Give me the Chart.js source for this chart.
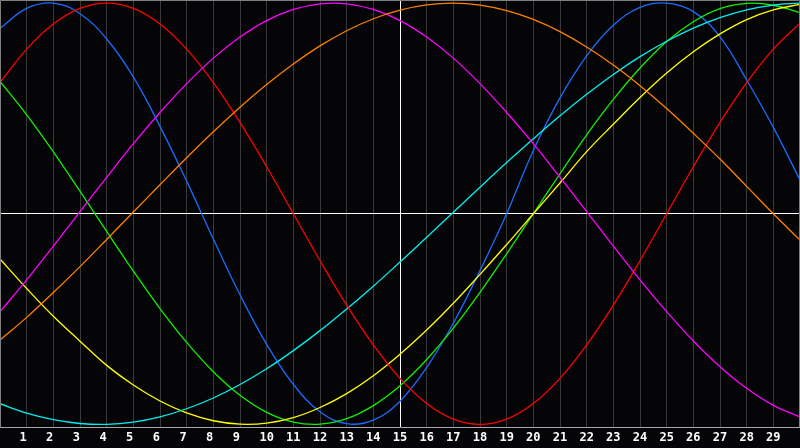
<!DOCTYPE html>
<html>
<head>
<meta charset="utf-8">
<script src="https://cdn.jsdelivr.net/npm/chart.js@4/dist/chart.umd.min.js"></script>
<style>
  html, body { margin: 0; padding: 0; background: #050508; }
  #wrap { width: 800px; height: 448px; }
</style>
</head>
<body>
<div id="wrap"><canvas id="c" width="800" height="448"></canvas></div>
<script>
const xValues = [0,1,2,3,4,5,6,7,8,9,10,11,12,13,14,15,16,17,18,19,20,21,22,23,24,25,26,27,28,29,30];
const tickLabels = ['', '1','2','3','4','5','6','7','8','9','10','11','12','13','14','15','16','17','18','19','20','21','22','23','24','25','26','27','28','29',''];

const blueSeries = [0.88,0.975,1.0,0.95,0.83,0.65,0.415,0.155,-0.12,-0.385,-0.62,-0.81,-0.94,-0.997,-0.98,-0.89,-0.73,-0.52,-0.27,0.0,0.30,0.55,0.75,0.895,0.98,1.0,0.96,0.84,0.635,0.41,0.16];
const redSeries = [0.623,0.782,0.901,0.975,1.0,0.975,0.901,0.782,0.623,0.434,0.223,0.0,-0.223,-0.434,-0.623,-0.782,-0.901,-0.975,-1.0,-0.975,-0.901,-0.782,-0.623,-0.434,-0.223,0.0,0.223,0.434,0.623,0.782,0.905];
const magentaSeries = [-0.465,-0.314,-0.154,0.01,0.173,0.333,0.481,0.618,0.739,0.839,0.917,0.97,0.997,0.997,0.97,0.917,0.839,0.739,0.618,0.481,0.333,0.173,0.01,-0.154,-0.314,-0.465,-0.604,-0.726,-0.829,-0.91,-0.965];
const orangeSeries = [-0.60,-0.492,-0.374,-0.251,-0.122,0.008,0.138,0.266,0.389,0.506,0.614,0.711,0.797,0.869,0.926,0.967,0.992,1.0,0.991,0.965,0.923,0.865,0.792,0.706,0.608,0.50,0.382,0.26,0.13,0.0,-0.125];
const greenSeries = [0.628,0.47,0.294,0.107,-0.084,-0.272,-0.45,-0.611,-0.75,-0.862,-0.943,-0.989,-0.999,-0.973,-0.911,-0.817,-0.692,-0.543,-0.373,-0.19,0.0,0.19,0.375,0.543,0.692,0.818,0.912,0.974,0.999,0.99,0.955];
const cyanSeries = [-0.902,-0.947,-0.978,-0.996,-1.0,-0.989,-0.964,-0.926,-0.875,-0.811,-0.736,-0.65,-0.555,-0.452,-0.344,-0.229,-0.112,0.007,0.126,0.243,0.356,0.465,0.567,0.661,0.746,0.819,0.881,0.931,0.968,0.991,1.0];
const yellowSeries = [-0.215,-0.355,-0.487,-0.605,-0.72,-0.813,-0.889,-0.946,-0.983,-0.999,-0.994,-0.968,-0.92,-0.854,-0.769,-0.667,-0.552,-0.425,-0.288,-0.146,0.0,0.146,0.295,0.425,0.552,0.668,0.769,0.854,0.922,0.968,0.994];

const seriesList = [
  { name: 'orange', values: orangeSeries, color: '#ff8000' },
  { name: 'magenta', values: magentaSeries, color: '#ff00ff' },
  { name: 'red', values: redSeries, color: '#ff0000' },
  { name: 'cyan', values: cyanSeries, color: '#00f0f0' },
  { name: 'yellow', values: yellowSeries, color: '#ffff00' },
  { name: 'green', values: greenSeries, color: '#10f000' },
  { name: 'blue', values: blueSeries, color: '#1a6cff' }
];

const framePlugin = {
  id: 'frame',
  afterDatasetsDraw(chart) {
    const a = chart.chartArea;
    const ctx = chart.ctx;
    ctx.save();
    ctx.strokeStyle = '#808080';
    ctx.lineWidth = 1;
    ctx.beginPath();
    ctx.moveTo(a.left + 0.5, a.bottom);
    ctx.lineTo(a.left + 0.5, a.top + 0.5);
    ctx.lineTo(a.right - 0.5, a.top + 0.5);
    ctx.lineTo(a.right - 0.5, a.bottom);
    ctx.stroke();
    ctx.restore();
  }
};

new Chart(document.getElementById('c'), {
  type: 'line',
  data: {
    datasets: seriesList.map(s => ({
      label: s.name,
      data: xValues.map((x, i) => ({ x: x, y: s.values[i] })),
      borderColor: s.color,
      backgroundColor: s.color,
      borderWidth: 1.3,
      pointRadius: 0,
      pointHoverRadius: 0,
      tension: 0.4,
      fill: false
    }))
  },
  options: {
    responsive: false,
    animation: false,
    events: [],
    layout: { autoPadding: false, padding: { left: 0, right: 0, top: 0, bottom: -0.5 } },
    plugins: { legend: { display: false }, tooltip: { enabled: false } },
    scales: {
      x: {
        type: 'linear',
        min: 0,
        max: 30,
        afterBuildTicks: (scale) => { scale.ticks = xValues.map(v => ({ value: v })); },
        ticks: {
          autoSkip: false,
          maxRotation: 0,
          minRotation: 0,
          padding: 0,
          color: '#ffffff',
          font: { family: 'DejaVu Sans Mono', weight: 'bold', size: 12, lineHeight: '21px' },
          callback: (v) => {
            const t = tickLabels[Math.round(v)] || '';
            return t.length === 1 ? t + ' ' : t;
          }
        },
        grid: {
          drawTicks: false,
          lineWidth: 1,
          color: (ctx) => {
            const v = ctx.tick ? ctx.tick.value : -1;
            if (v === 15) return '#ffffff';
            if (v === 0 || v === 30) return 'rgba(0,0,0,0)';
            return '#3a3a3a';
          }
        },
        border: { display: true, color: '#a8a8a8', width: 1 }
      },
      y: {
        type: 'linear',
        min: -1.015,
        max: 1.015,
        afterBuildTicks: (scale) => { scale.ticks = [{ value: 0 }]; },
        ticks: { display: false },
        grid: {
          drawTicks: false,
          lineWidth: 1,
          color: (ctx) => (ctx.tick && ctx.tick.value === 0) ? '#ffffff' : 'rgba(0,0,0,0)'
        },
        border: { display: false }
      }
    }
  },
  plugins: [framePlugin]
});
</script>
</body>
</html>
